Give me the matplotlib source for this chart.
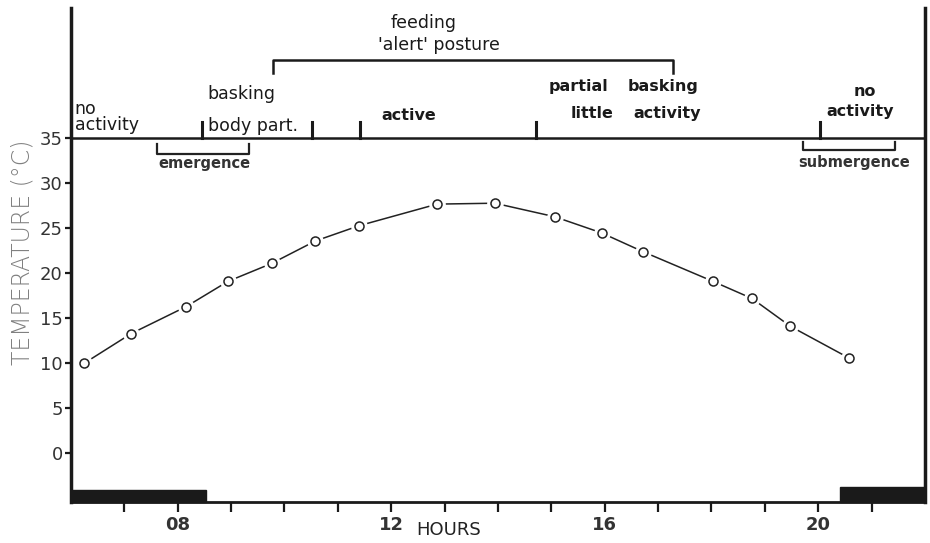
import matplotlib.pyplot as plt
import matplotlib
import numpy as np

matplotlib.rcParams['font.family'] = ['DejaVu Sans']

# hourly readings (hour of day, temperature in °C)
hours = [6.25, 7.13, 8.16, 8.94, 9.76, 10.58, 11.4, 12.86, 13.94,
         15.06, 15.94, 16.72, 18.03, 18.76, 19.48, 20.57]
temps = [10.0, 13.3, 16.3, 19.1, 21.1, 23.6, 25.3, 27.7, 27.8,
         26.3, 24.5, 22.4, 19.1, 17.2, 14.1, 10.6]

x_ticks = list(range(7, 22))
x_labels = {8: "08", 12: "12", 16: "16", 20: "20"}
y_ticks = [0, 5, 10, 15, 20, 25, 30, 35]

# dark periods (night) drawn on the time axis
night = [(6.0, 8.53, 1.35), (20.4, 22.0, 1.65)]

# boundaries between activity phases on the 35 °C line
phase_bounds = [8.46, 10.51, 11.41, 14.71, 20.03]

narrow = ['Liberation Sans Narrow', 'DejaVu Sans']

fig = plt.figure(figsize=(9.3, 5.43), dpi=100)
ax = fig.add_axes([0.0763, 0.0755, 0.9183, 0.9095])
ax.set_xlim(6, 22)
ax.set_ylim(-5.44, 49.5)

# curve with gaps round the open circles
ax.plot(hours, temps, color="#222222", lw=1.1, zorder=1)
ax.plot(hours, temps, "o", ms=11, mfc="white", mec="white", zorder=2)
ax.plot(hours, temps, "o", ms=6.5, mfc="white", mec="#222222", mew=1.1, zorder=3)

# night bars
for x0, x1, h in night:
    ax.add_patch(plt.Rectangle((x0, -5.44), x1 - x0, h, color="#1a1a1a",
                               zorder=4, clip_on=False))

# phase line and separators
ax.plot([6, 22], [35, 35], color="#1a1a1a", lw=1.8, zorder=4)
for b in phase_bounds:
    ax.plot([b, b], [35, 36.8], color="#1a1a1a", lw=2.2)

# feeding bracket
ax.plot([9.79, 9.79, 17.27, 17.27], [42.3, 43.7, 43.7, 42.3], color="#1a1a1a", lw=1.8)
# emergence / submergence brackets
ax.plot([7.62, 7.62, 9.34, 9.34], [34.4, 33.3, 33.3, 34.4], color="#222222", lw=1.6)
ax.plot([19.71, 19.71, 21.43, 21.43], [34.6, 33.7, 33.7, 34.6], color="#222222", lw=1.6)

txt = dict(fontsize=12.5, color="#1a1a1a", va="center")
bold = dict(fontsize=11.5, color="#1a1a1a", va="center", fontweight="bold")
ax.text(6.07, 38.3, "no", **txt)
ax.text(6.07, 36.5, "activity", **txt)
ax.text(8.56, 40.0, "basking", **txt)
ax.text(8.56, 36.4, "body part.", **txt)
ax.text(11.82, 37.6, "active", **bold)
ax.text(14.94, 40.8, "partial", **bold)
ax.text(15.37, 37.8, "little", **bold)
ax.text(16.43, 40.8, "basking", **bold)
ax.text(16.54, 37.8, "activity", **bold)
ax.text(20.87, 40.2, "no", ha="center", **bold)
ax.text(20.16, 38.0, "activity", **bold)
ax.text(12.6, 47.9, "feeding", ha="center", **txt)
ax.text(12.9, 45.4, "'alert' posture", ha="center", **txt)
ax.text(8.5, 32.2, "emergence", ha="center", fontsize=10.5, fontweight="bold",
        color="#333333", va="center", family=narrow)
ax.text(20.68, 32.3, "submergence", ha="center", fontsize=10.5, fontweight="bold",
        color="#333333", va="center", family=narrow)

# axes
ax.spines["top"].set_visible(False)
ax.spines["left"].set_linewidth(2.5)
ax.spines["right"].set_linewidth(2.5)
ax.spines["bottom"].set_linewidth(2.0)
for s in ["left", "right", "bottom"]:
    ax.spines[s].set_color("#1a1a1a")

ax.set_xticks(x_ticks)
ax.set_xticklabels([x_labels.get(t, "") for t in x_ticks], family=narrow,
                   fontsize=13, fontweight="bold", color="#333333")
ax.tick_params(axis="x", length=7, width=1.6, pad=3, color="#1a1a1a")

ax.set_yticks(y_ticks)
ax.set_yticklabels([str(t) for t in y_ticks], family=narrow, fontsize=13,
                   color="#333333")
ax.tick_params(axis="y", length=4, width=1.6, pad=2, color="#1a1a1a")

ax.text(0.442, -0.057, "HOURS", transform=ax.transAxes, ha="center", va="center",
        fontsize=13, family=narrow, color="#222222")
fig.text(0.024, 0.536, "TEMPERATURE (°C)", rotation=90, ha="center", va="center",
         fontsize=17, color="#808080", fontweight="light")

fig.savefig("out.png", dpi=100)
